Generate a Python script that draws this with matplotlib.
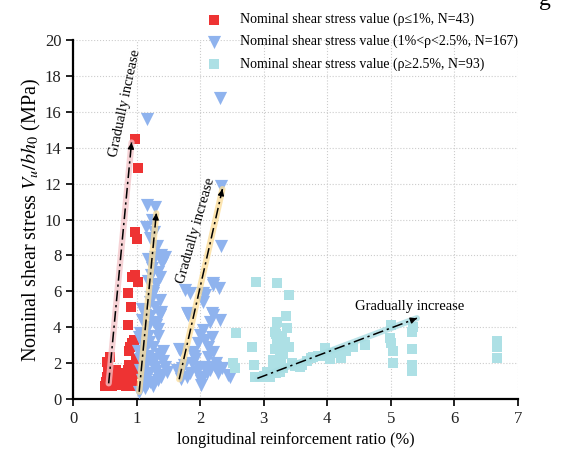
import numpy as np
import matplotlib.pyplot as plt

plt.rcParams['font.family'] = ['Liberation Serif', 'DejaVu Serif']
plt.rcParams['mathtext.fontset'] = 'stix'

# rho <= 1%
red_x = [0.98, 1.02, 0.98, 1.00, 0.97, 0.92, 1.02, 0.86, 0.91, 0.86, 0.90, 0.93,
         0.96, 0.88, 0.58, 0.53, 0.55, 0.53, 0.50, 0.56, 0.62, 0.77, 0.87, 0.82,
         0.77, 0.90, 0.96, 0.98, 0.70, 0.66, 0.72, 0.84, 0.60, 0.52, 0.79, 0.93,
         0.68, 0.57, 0.95, 0.74, 0.99, 0.64, 0.88]
red_y = [14.5, 12.9, 9.3, 8.9, 6.9, 6.8, 6.5, 5.9, 5.1, 4.1, 2.9, 3.1,
         3.3, 2.7, 2.36, 2.08, 1.8, 1.25, 0.7, 0.75, 0.7, 1.43, 1.6, 1.06,
         0.8, 1.25, 1.4, 1.8, 1.3, 1.0, 0.9, 0.75, 1.5, 0.95, 1.2, 0.9,
         1.6, 1.1, 0.7, 1.05, 2.2, 0.8, 1.9]

# 1% < rho < 2.5%
blue_x = [1.17, 2.31, 2.33, 2.33,
          1.16, 1.29, 1.24, 1.21, 1.32, 1.29, 1.45, 1.18, 1.24, 1.34, 1.18, 1.31,
          1.26, 1.21, 1.37, 1.29, 1.13, 1.21, 1.37, 1.08, 1.18, 1.31, 1.05, 1.18,
          1.34, 1.11, 1.26, 1.42, 1.08, 1.18, 1.29, 1.13, 1.29, 1.45, 1.05, 1.20,
          1.34, 1.08, 1.21, 1.13, 1.03, 1.34, 1.39, 1.39, 1.13, 1.03, 1.10, 1.25,
          1.40, 1.15, 1.28, 1.36, 1.06, 1.22, 1.33, 1.12, 1.27, 1.42, 1.02, 1.16,
          1.24, 1.31, 1.19, 1.09, 1.38, 1.26, 1.14, 1.35, 1.23, 1.48,
          2.20, 2.29, 1.76, 1.84, 2.07, 2.05, 1.81, 2.18, 2.31, 2.15, 2.05, 2.00,
          2.18, 1.97, 1.68, 2.20, 2.13, 1.71, 1.87, 1.97, 2.07, 2.23, 1.63, 1.84,
          2.00, 2.10, 2.28, 2.47, 2.02, 1.79, 1.79, 1.66, 2.20, 2.05, 2.20, 2.44,
          1.92, 2.12, 1.75, 1.95, 2.25, 1.90, 2.02, 2.15, 1.70, 2.35, 1.88, 2.08]
blue_y = [15.6, 16.8, 11.9, 8.5,
          10.8, 10.7, 10.0, 9.0, 8.5, 7.9, 7.9, 7.8, 7.3, 7.1, 6.6, 6.4,
          5.9, 5.4, 5.5, 5.1, 4.7, 4.6, 4.7, 4.4, 4.0, 4.1, 3.66, 3.5,
          3.5, 3.1, 2.9, 2.7, 2.6, 2.4, 2.2, 1.8, 1.8, 1.8, 1.6, 1.43,
          1.34, 1.06, 0.97, 0.6, 0.4, 1.06, 8.0, 4.86, 2.0, 3.47, 3.0, 6.0,
          7.6, 9.6, 9.3, 6.8, 2.2, 5.7, 3.9, 1.3, 4.3, 2.1, 2.7, 0.85,
          2.0, 1.55, 3.2, 5.0, 1.2, 0.7, 2.9, 2.5, 6.9, 1.5,
          6.45, 6.2, 6.1, 5.9, 5.8, 5.4, 4.7, 4.8, 4.4, 4.3, 3.84, 3.56,
          3.47, 3.1, 2.73, 2.64, 2.35, 1.71, 1.98, 1.8, 1.8, 1.8, 1.6, 1.43,
          1.25, 1.43, 1.43, 1.25, 0.78, 1.25, 4.77, 2.8, 6.35, 5.9, 4.7, 1.34,
          2.2, 2.9, 1.9, 1.5, 2.0, 2.4, 1.0, 1.6, 1.1, 1.7, 2.6, 3.3]

# rho >= 2.5%
cyan_x = [2.88, 3.21, 3.39, 3.35, 3.21, 3.36, 3.18, 3.21, 3.39, 3.25, 3.15, 2.81,
          2.84, 2.86, 3.25, 3.31, 3.15, 3.57, 3.75, 3.86, 3.10, 2.56, 2.52, 2.55,
          3.96, 4.07, 3.94, 4.22, 3.78, 3.60, 3.25, 4.15, 4.30, 4.05,
          5.01, 5.01, 5.04, 5.04, 4.99, 5.34, 5.34, 5.34, 5.34, 5.35,
          6.67, 6.67, 6.67, 3.20, 3.28, 3.22, 3.30, 3.18, 3.27, 3.24, 3.33, 3.19,
          3.00, 3.05, 2.95, 3.45, 3.50, 3.68, 4.40, 4.60]
cyan_y = [6.5, 6.45, 5.8, 4.6, 4.3, 3.93, 3.75, 3.3, 2.9, 2.7, 2.17, 2.9,
          1.9, 1.25, 2.1, 1.7, 1.6, 1.8, 2.27, 2.4, 1.25, 3.7, 2.0, 1.7,
          2.82, 2.54, 2.4, 2.27, 2.36, 1.9, 1.5, 2.6, 2.7, 2.2,
          4.1, 3.1, 2.7, 2.0, 3.4, 3.75, 2.8, 1.9, 1.55, 4.0,
          3.25, 2.9, 2.3, 3.6, 3.5, 3.0, 2.5, 2.8, 2.3, 1.9, 3.2, 1.45,
          1.3, 1.5, 1.2, 2.0, 1.85, 2.1, 2.9, 3.0]

# trend arrows: start -> end
trend_start = [(0.56, 0.87), (1.04, 0.40), (1.67, 1.10), (2.90, 1.15)]
trend_end = [(0.92, 14.3), (1.31, 10.35), (2.35, 11.7), (5.41, 4.5)]
trend_glow = ['#f4c4c8', '#fbdc95', '#fbdc95', '#a6dce2']

labels = ['Nominal shear stress value (\u03c1\u22641%, N=43)',
          'Nominal shear stress value (1%<\u03c1<2.5%, N=167)',
          'Nominal shear stress value (\u03c1\u22652.5%, N=93)']

fig = plt.figure(figsize=(5.71, 4.57), dpi=100)
ax = fig.add_axes([0.128, 0.127, 0.779, 0.785])

ax.scatter(red_x, red_y, marker='s', s=55, color='#ee3333', lw=0, label=labels[0], zorder=3)
ax.scatter(blue_x, blue_y, marker='v', s=90, color='#8fb3ee', lw=0, label=labels[1], zorder=3)
ax.scatter(cyan_x, cyan_y, marker='s', s=55, color='#ade0e5', lw=0, label=labels[2], zorder=3)

for (x0, y0), (x1, y1), gc in zip(trend_start, trend_end, trend_glow):
    ax.plot([x0, x1], [y0, y1], color=gc, lw=4.5, alpha=0.75, solid_capstyle='round', zorder=4)
    ax.plot([x0, x1], [y0, y1], color='k', lw=1.1, ls=(0, (7, 2.5, 1.5, 2.5)), zorder=5)
    ax.annotate('', xy=(x1, y1), xytext=(x1 - 0.02 * (x1 - x0), y1 - 0.02 * (y1 - y0)),
                arrowprops=dict(arrowstyle='-|>', color='k', lw=1, mutation_scale=9), zorder=6)

ax.text(0.82, 16.5, 'Gradually increase', rotation=78, fontsize=10.5,
        ha='center', va='center', zorder=6)
ax.text(1.93, 9.4, 'Gradually increase', rotation=74, fontsize=10.5,
        ha='center', va='center', zorder=6)
ax.text(5.3, 5.14, 'Gradually increase', fontsize=10.5, ha='center', va='center', zorder=6)

ax.set_xlim(0, 7)
ax.set_ylim(0, 20)
ax.set_xticks(np.arange(0, 8, 1))
ax.set_yticks(np.arange(0, 21, 2))
ax.grid(True, ls=':', color='#cccccc', lw=0.8)
ax.set_axisbelow(True)
for s in ['top', 'right']:
    ax.spines[s].set_visible(False)
for s in ['left', 'bottom']:
    ax.spines[s].set_linewidth(1.6)
ax.tick_params(labelsize=12, width=1.4, length=5, colors='#222222')

ax.set_xlabel('longitudinal reinforcement ratio (%)', fontsize=11.8)
ax.set_ylabel('Nominal shear stress $V_u/bh_0$ (MPa)', fontsize=14.5, labelpad=1)

fig.legend(loc='upper left', bbox_to_anchor=(0.336, 0.99), frameon=False,
           fontsize=10, labelspacing=0.62, handletextpad=0.9, borderaxespad=0.2)

# clipped title remnant at the top edge
fig.text(0.955, 1.0, 'g', fontsize=17, ha='center', va='center')

fig.savefig('out.png', dpi=100)
